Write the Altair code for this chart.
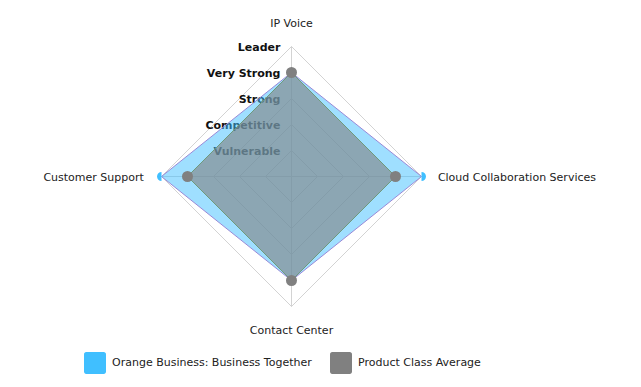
import altair as alt
import pandas as pd

# ---- data ----
axes_labels = ["IP Voice", "Cloud Collaboration Services", "Contact Center", "Customer Support"]
levels = ["Vulnerable", "Competitive", "Strong", "Very Strong", "Leader"]
series_names = ["Orange Business: Business Together", "Product Class Average"]
orange_vals = [4, 5, 4, 5]
average_vals = [4, 4, 4, 4]
series_colors = ["#40BFFF", "#808080"]

N = len(axes_labels)
L = len(levels)

scores = pd.DataFrame({
    "series": [s for s in series_names for _ in axes_labels],
    "axis": axes_labels * 2,
    "idx": list(range(N)) * 2,
    "value": orange_vals + average_vals,
})
grid = pd.DataFrame({
    "lvl": [j + 1 for j in range(L) for _ in range(N)],
    "idx": list(range(N)) * L,
})
spokes = pd.DataFrame({"axis": axes_labels, "idx": list(range(N)), "value": [L] * N})
level_df = pd.DataFrame({"level": levels, "lvl": list(range(1, L + 1))})

# ---- layout ----
W, H = 625, 371
UNIT = 26.0
CX, CY = 283.5, 168.5
FONT = "DejaVu Sans"

xs = alt.Scale(domain=[-CX / UNIT, (W - CX) / UNIT], nice=False, zero=False)
ys = alt.Scale(domain=[-(H - CY) / UNIT, CY / UNIT], nice=False, zero=False)


def polar(ch, rexpr):
    return ch.transform_calculate(
        theta=f"datum.idx * 2 * PI / {N}",
        px=f"({rexpr}) * sin(datum.theta)",
        py=f"({rexpr}) * cos(datum.theta)",
    )


X = lambda f: alt.X(f, scale=xs, axis=None)
Y = lambda f: alt.Y(f, scale=ys, axis=None)

grid_layer = polar(alt.Chart(grid), "datum.lvl").mark_line(
    interpolate="linear-closed", stroke="#d3d3d3", strokeWidth=1
).encode(x=X("px:Q"), y=Y("py:Q"), detail="lvl:N", order="idx:Q")

spoke_layer = polar(alt.Chart(spokes), "datum.value").transform_calculate(
    zero="0"
).mark_rule(stroke="#d3d3d3", strokeWidth=1).encode(
    x=X("zero:Q"), y=Y("zero:Q"), x2="px:Q", y2="py:Q"
)

level_layer = alt.Chart(level_df).transform_calculate(zero="0").mark_text(
    align="right", baseline="middle", dx=-11, dy=1, font=FONT,
    fontSize=11, fontWeight="bold", color="#111111"
).encode(x=X("zero:Q"), y=Y("lvl:Q"), text="level:N")

def axis_text(idxs, align, extra):
    return polar(
        alt.Chart(spokes).transform_filter(
            alt.FieldOneOfPredicate(field="idx", oneOf=idxs)
        ),
        f"datum.value + {extra}",
    ).mark_text(
        align=align, baseline="middle", dy=1, font=FONT, fontSize=11, color="#222222"
    ).encode(x=X("px:Q"), y=Y("py:Q"), text="axis:N")

lab_tb = axis_text([0, 2], "center", 0.92)
lab_r = axis_text([1], "left", 0.63)
lab_l = axis_text([3], "right", 0.68)

def area(name, fill, opacity, stroke):
    return polar(
        alt.Chart(scores).transform_filter(alt.datum.series == name), "datum.value"
    ).mark_line(
        interpolate="linear-closed", fill=fill, fillOpacity=opacity,
        stroke=stroke, strokeWidth=1
    ).encode(x=X("px:Q"), y=Y("py:Q"), order="idx:Q")

area_o = area(series_names[0], series_colors[0], 0.5, "#9a8ad8")
area_a = area(series_names[1], series_colors[1], 0.6, "#6f9a7c")

HALF = "M0,-1A1,1,0,0,1,0,1Z"
ROUNDSQ = ("M-0.8,-1L0.8,-1A0.2,0.2,0,0,1,1,-0.8L1,0.8A0.2,0.2,0,0,1,0.8,1"
           "L-0.8,1A0.2,0.2,0,0,1,-1,0.8L-1,-0.8A0.2,0.2,0,0,1,-0.8,-1Z")

def pts(name, shape, size, color):
    return polar(
        alt.Chart(scores).transform_filter(alt.datum.series == name), "datum.value"
    ).transform_calculate(
        ang=f"(datum.idx * 360 / {N} + 270) % 360"
    ).mark_point(filled=True, opacity=1, shape=shape, size=size, color=color).encode(
        x=X("px:Q"), y=Y("py:Q"), angle=alt.Angle("ang:Q", scale=None)
    )

pts_o = pts(series_names[0], HALF, 81, series_colors[0])
pts_a = pts(series_names[1], "circle", 121, series_colors[1])

legend_layer = polar(alt.Chart(scores), "datum.value").mark_point(
    filled=True, opacity=0, shape=ROUNDSQ, size=0
).encode(
    x=X("px:Q"), y=Y("py:Q"),
    color=alt.Color(
        "series:N",
        scale=alt.Scale(domain=series_names, range=series_colors),
        legend=alt.Legend(
            title=None, orient="none", legendX=76, legendY=344,
            direction="horizontal", symbolType=ROUNDSQ, symbolSize=484,
            symbolStrokeWidth=0, symbolOpacity=1, labelFont=FONT,
            labelFontSize=11, labelColor="#222222", labelOffset=6,
            columnPadding=18, padding=0, labelLimit=400,
        ),
    ),
)

chart = alt.layer(
    grid_layer, spoke_layer, level_layer, lab_tb, lab_r, lab_l,
    area_o, area_a, pts_o, pts_a, legend_layer
).properties(
    width=W, height=H, padding=0, autosize=alt.AutoSizeParams(type="none")
).configure_view(stroke=None)

chart.save("out.html", embed_options={"renderer": "svg", "actions": False})
